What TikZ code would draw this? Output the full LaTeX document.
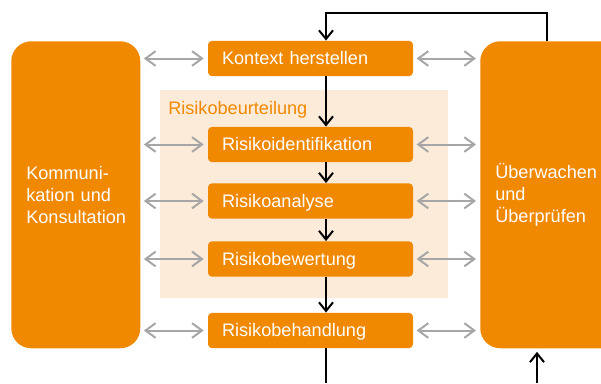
\documentclass[tikz,border=0pt]{standalone}
\usepackage{fontspec}
\setmainfont{Liberation Sans}
\usetikzlibrary{arrows.meta}
\definecolor{orng}{RGB}{240,136,0}
\definecolor{beige}{RGB}{253,235,217}
\definecolor{grau}{RGB}{166,166,166}

\begin{document}
\begin{tikzpicture}[x=0.75pt, y=-0.75pt,
 every node/.style={font=\fontsize{13.6pt}{16.5pt}\selectfont},
 schritt/.style={fill=orng, text=white, rounded corners=3pt, text width=132.75pt,
   inner xsep=10.5pt, inner ysep=0pt, text height=0.95em, text depth=0pt,
   minimum height=26.5pt, align=left},
 gross/.style={fill=orng, text=white, rounded corners=15pt, inner xsep=11.25pt,
   minimum height=230.25pt, align=left, anchor=north west},
 pfeil/.style={black, line width=1.5pt, -{Straight Barb[length=6.5pt,width=10.5pt]}},
 dpfeil/.style={grau, line width=1.5pt, {Straight Barb[length=7.5pt,width=11pt]}-{Straight Barb[length=7.5pt,width=11pt]},
   shorten <=2.5pt, shorten >=3pt}]
\useasboundingbox (0,0) rectangle (601,383);
\fill[beige] (160,90) rectangle (448,298);
\node[anchor=west, text=orng, inner sep=0pt] (beurt) at (168,110) {Risikobeurteilung};
\node[gross, text width=74.25pt] (komm) at (11,41) {Kommuni-\\kation und\\Konsultation};
\node[gross, text width=97.5pt] (ueber) at (480,41) {Überwachen\\und\\Überprüfen};
\node[schritt] (ctx) at (310.5,58.5) {Kontext herstellen};
\node[schritt] (ident) at (310.5,144.5) {Risikoidentifikation};
\node[schritt] (analyse) at (310.5,201) {Risikoanalyse};
\node[schritt] (bewert) at (310.5,259) {Risikobewertung};
\node[schritt] (behand) at (310.5,330.5) {Risikobehandlung};
\coordinate (achse) at (326,13);
\coordinate (rueck) at (547,13);
\coordinate (unten) at (326,383);
\coordinate (zurueck) at (537,383);
\foreach \n in {ctx,ident,analyse,bewert,behand} {
 \draw[dpfeil] (komm.east |- \n.west) -- (\n.west);
 \draw[dpfeil] (\n.east) -- (\n.east -| ueber.west);
}
\draw[pfeil] (ctx.south -| achse) -- (ident.north -| achse);
\draw[pfeil] (ident.south -| achse) -- (analyse.north -| achse);
\draw[pfeil] (analyse.south -| achse) -- (bewert.north -| achse);
\draw[pfeil] (bewert.south -| achse) -- (behand.north -| achse);
\draw[black, line width=1.5pt] (behand.south -| achse) -- (unten);
\draw[pfeil] (ueber.north -| rueck) -- (rueck) -- (achse) -- (ctx.north -| achse);
\draw[pfeil, shorten >=2.5pt] (zurueck) -- (ueber.south -| zurueck);
\end{tikzpicture}
\end{document}
